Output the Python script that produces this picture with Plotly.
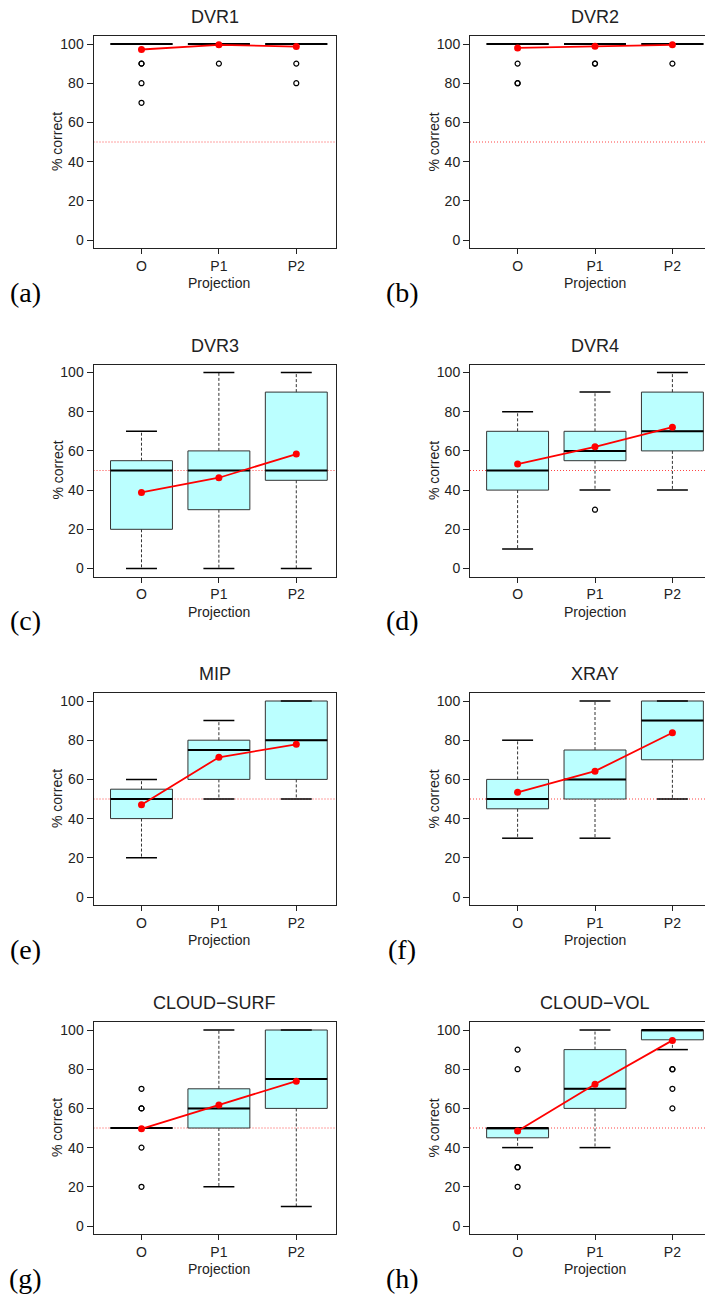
import plotly.graph_objects as go

# ---------------- data ----------------
categories = ["O", "P1", "P2"]
positions = [1, 2, 3]
titles = ["DVR1", "DVR2", "DVR3", "DVR4", "MIP", "XRAY", "CLOUD\u2212SURF", "CLOUD\u2212VOL"]
panel_tags = ["(a)", "(b)", "(c)", "(d)", "(e)", "(f)", "(g)", "(h)"]
chance_level = 50
y_ticks = [0, 20, 40, 60, 80, 100]

dvr1_q1 = [100, 100, 100]
dvr1_med = [100, 100, 100]
dvr1_q3 = [100, 100, 100]
dvr1_lo = [100, 100, 100]
dvr1_hi = [100, 100, 100]
dvr1_mean = [97.2, 99.6, 98.7]
dvr1_out = [[90, 90, 80, 70], [90], [90, 80]]

dvr2_q1 = [100, 100, 100]
dvr2_med = [100, 100, 100]
dvr2_q3 = [100, 100, 100]
dvr2_lo = [100, 100, 100]
dvr2_hi = [100, 100, 100]
dvr2_mean = [98.0, 98.8, 99.6]
dvr2_out = [[90, 80, 80], [90, 90], [90]]

dvr3_q1 = [20, 30, 45]
dvr3_med = [50, 50, 50]
dvr3_q3 = [55, 60, 90]
dvr3_lo = [0, 0, 0]
dvr3_hi = [70, 100, 100]
dvr3_mean = [38.8, 46.3, 58.4]
dvr3_out = [[], [], []]

dvr4_q1 = [40, 55, 60]
dvr4_med = [50, 60, 70]
dvr4_q3 = [70, 70, 90]
dvr4_lo = [10, 40, 40]
dvr4_hi = [80, 90, 100]
dvr4_mean = [53.3, 62.1, 72.1]
dvr4_out = [[], [30], []]

mip_q1 = [40, 60, 60]
mip_med = [50, 75, 80]
mip_q3 = [55, 80, 100]
mip_lo = [20, 50, 50]
mip_hi = [60, 90, 100]
mip_mean = [47.1, 71.3, 77.9]
mip_out = [[], [], []]

xray_q1 = [45, 50, 70]
xray_med = [50, 60, 90]
xray_q3 = [60, 75, 100]
xray_lo = [30, 30, 50]
xray_hi = [80, 100, 100]
xray_mean = [53.4, 64.2, 83.8]
xray_out = [[], [], []]

surf_q1 = [50, 50, 60]
surf_med = [50, 60, 75]
surf_q3 = [50, 70, 100]
surf_lo = [50, 20, 10]
surf_hi = [50, 100, 100]
surf_mean = [49.6, 61.7, 73.9]
surf_out = [[70, 60, 60, 40, 20], [], []]

vol_q1 = [45, 60, 95]
vol_med = [50, 70, 100]
vol_q3 = [50, 90, 100]
vol_lo = [40, 40, 90]
vol_hi = [50, 100, 100]
vol_mean = [48.5, 72.3, 94.7]
vol_out = [[90, 80, 30, 30, 20], [], [80, 80, 70, 60]]

panels = [
    (dvr1_q1, dvr1_med, dvr1_q3, dvr1_lo, dvr1_hi, dvr1_mean, dvr1_out),
    (dvr2_q1, dvr2_med, dvr2_q3, dvr2_lo, dvr2_hi, dvr2_mean, dvr2_out),
    (dvr3_q1, dvr3_med, dvr3_q3, dvr3_lo, dvr3_hi, dvr3_mean, dvr3_out),
    (dvr4_q1, dvr4_med, dvr4_q3, dvr4_lo, dvr4_hi, dvr4_mean, dvr4_out),
    (mip_q1, mip_med, mip_q3, mip_lo, mip_hi, mip_mean, mip_out),
    (xray_q1, xray_med, xray_q3, xray_lo, xray_hi, xray_mean, xray_out),
    (surf_q1, surf_med, surf_q3, surf_lo, surf_hi, surf_mean, surf_out),
    (vol_q1, vol_med, vol_q3, vol_lo, vol_hi, vol_mean, vol_out),
]

# ---------------- layout geometry (pixels) ----------------
W, H = 705, 1296
col_left = [93.5, 470.0]
col_right = [336.0, 705.0]
unit_px = 77.4
x_start = [0.38, 0.385]
row_top = [36.0, 364.5, 693.0, 1022.0]
plot_h = 212.0

BOX_HALF = 0.4
CAP_HALF = 0.2
SANS = "Liberation Sans, Arial, Helvetica, sans-serif"
SERIF = "Liberation Serif, Times New Roman, serif"
FILL = "#BBFFFF"
DARK = "#222222"

fig = go.Figure()
layout = dict(
    width=W, height=H, autosize=False,
    margin=dict(l=0, r=0, t=0, b=0, pad=0),
    paper_bgcolor="white", plot_bgcolor="white",
    showlegend=False,
    font=dict(family=SANS, size=14, color=DARK),
    shapes=[], annotations=[],
)


def px_x(p):
    return p / W


def px_y(p):
    return 1 - p / H


for i, (q1, med, q3, lo, hi, mean, out) in enumerate(panels):
    n = i + 1
    col = i % 2
    row = i // 2
    xa = "x" if n == 1 else f"x{n}"
    ya = "y" if n == 1 else f"y{n}"
    xkey = "xaxis" if n == 1 else f"xaxis{n}"
    ykey = "yaxis" if n == 1 else f"yaxis{n}"

    left, right = col_left[col], col_right[col]
    top = row_top[row]
    bottom = top + plot_h
    xr = [x_start[col], x_start[col] + (right - left) / unit_px]

    layout[xkey] = dict(
        domain=[px_x(left), px_x(right)], range=xr, anchor=ya,
        tickvals=positions, ticktext=categories,
        ticks="outside", ticklen=5, tickwidth=1, tickcolor=DARK,
        showline=True, linecolor=DARK, linewidth=1, mirror=True,
        showgrid=False, zeroline=False, fixedrange=True,
        tickfont=dict(family=SANS, size=14, color=DARK),
    )
    layout[ykey] = dict(
        domain=[px_y(bottom), px_y(top)], range=[-4.08, 104.08], anchor=xa,
        tickvals=y_ticks, ticks="outside", ticklen=6, tickwidth=1, tickcolor=DARK,
        showline=True, linecolor=DARK, linewidth=1, mirror=(col == 0),
        showgrid=False, zeroline=False, fixedrange=True,
        tickfont=dict(family=SANS, size=14, color=DARK),
    )

    # chance line
    layout["shapes"].append(dict(
        type="line", xref=f"{xa} domain", x0=0, x1=1, yref=ya,
        y0=chance_level, y1=chance_level, layer="below",
        line=dict(color="#FF4444", width=1, dash="1px,2px"),
    ))

    # boxes
    fig.add_trace(go.Box(
        x=positions, q1=q1, median=med, q3=q3,
        lowerfence=q1, upperfence=q3, width=2 * BOX_HALF,
        fillcolor=FILL, line=dict(color="#333333", width=1),
        whiskerwidth=0, boxpoints=False, hoverinfo="skip",
        xaxis=xa, yaxis=ya,
    ))

    # whiskers (dashed)
    wx, wy = [], []
    for p, a, b, c, d in zip(positions, q1, q3, lo, hi):
        if d > b:
            wx += [p, p, None]
            wy += [b, d, None]
        if c < a:
            wx += [p, p, None]
            wy += [a, c, None]
    if wx:
        fig.add_trace(go.Scatter(
            x=wx, y=wy, mode="lines", xaxis=xa, yaxis=ya,
            line=dict(color="#333333", width=1, dash="3px,2px"),
            hoverinfo="skip",
        ))

    # staples
    cx, cy = [], []
    for p, c, d in zip(positions, lo, hi):
        cx += [p - CAP_HALF, p + CAP_HALF, None, p - CAP_HALF, p + CAP_HALF, None]
        cy += [d, d, None, c, c, None]
    fig.add_trace(go.Scatter(
        x=cx, y=cy, mode="lines", xaxis=xa, yaxis=ya,
        line=dict(color="black", width=1.5), hoverinfo="skip",
    ))

    # medians
    mx, my = [], []
    for p, m in zip(positions, med):
        mx += [p - BOX_HALF, p + BOX_HALF, None]
        my += [m, m, None]
    fig.add_trace(go.Scatter(
        x=mx, y=my, mode="lines", xaxis=xa, yaxis=ya,
        line=dict(color="black", width=2), hoverinfo="skip",
    ))

    # outliers
    ox, oy = [], []
    for p, vals in zip(positions, out):
        for v in vals:
            ox.append(p)
            oy.append(v)
    if ox:
        fig.add_trace(go.Scatter(
            x=ox, y=oy, mode="markers", xaxis=xa, yaxis=ya,
            marker=dict(symbol="circle-open", size=5, color="black",
                        line=dict(width=1.2, color="black")),
            hoverinfo="skip",
        ))

    # means
    fig.add_trace(go.Scatter(
        x=positions, y=mean, mode="lines+markers", xaxis=xa, yaxis=ya,
        line=dict(color="#FF0000", width=1.8),
        marker=dict(color="#FF0000", size=7),
        hoverinfo="skip",
    ))

    # text
    full_right = left + (3.62 - x_start[col]) * unit_px
    cxp = (left + full_right) / 2 if col == 1 else (left + right) / 2
    layout["annotations"].append(dict(
        text=titles[i], xref="paper", yref="paper",
        x=px_x(cxp), y=px_y(top - 19), xanchor="center", yanchor="middle",
        showarrow=False, font=dict(family=SANS, size=18, color=DARK),
    ))
    layout["annotations"].append(dict(
        text="Projection", xref="paper", yref="paper",
        x=px_x(left + (2 - x_start[col]) * unit_px), y=px_y(bottom + 35),
        xanchor="center", yanchor="middle",
        showarrow=False, font=dict(family=SANS, size=14, color=DARK),
    ))
    layout["annotations"].append(dict(
        text="% correct", xref="paper", yref="paper", textangle=-90,
        x=px_x(left - 36.5), y=px_y((top + bottom) / 2),
        xanchor="center", yanchor="middle",
        showarrow=False, font=dict(family=SANS, size=14, color=DARK),
    ))
    layout["annotations"].append(dict(
        text=panel_tags[i], xref="paper", yref="paper",
        x=px_x(25 if col == 0 else 402), y=px_y(bottom + 44),
        xanchor="center", yanchor="middle",
        showarrow=False, font=dict(family=SERIF, size=28, color="black"),
    ))

fig.update_layout(**layout)
fig.write_html(
    "out.html",
    config={"displayModeBar": False},
    post_script="document.body.style.margin='0';document.body.style.overflow='hidden';",
)
